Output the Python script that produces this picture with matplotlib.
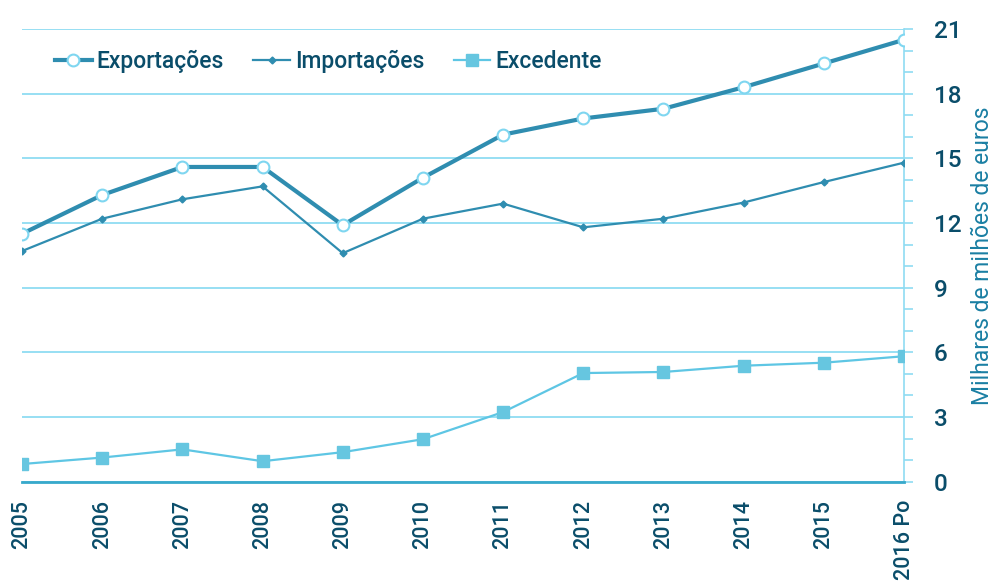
import numpy as np
import matplotlib
matplotlib.use("Agg")
import matplotlib.pyplot as plt
from matplotlib.ticker import MultipleLocator

plt.rcParams["font.family"] = ["Roboto", "DejaVu Sans"]
plt.rcParams["font.weight"] = "medium"

years = ["2005", "2006", "2007", "2008", "2009", "2010",
         "2011", "2012", "2013", "2014", "2015", "2016 Po"]
exportacoes = [11.5, 13.3, 14.6, 14.6, 11.9, 14.1, 16.1, 16.85, 17.3, 18.3, 19.4, 20.5]
importacoes = [10.7, 12.2, 13.1, 13.7, 10.6, 12.2, 12.9, 11.8, 12.2, 12.95, 13.9, 14.8]
excedente = [0.82, 1.12, 1.5, 0.95, 1.37, 1.97, 3.23, 5.04, 5.09, 5.38, 5.52, 5.82]

DARK = "#2f8db0"
LIGHT = "#5ec6e4"
GRID = "#8fdcf2"
TXT = "#0a4d6a"

fig = plt.figure(figsize=(9.93, 5.86), dpi=100)
ax = fig.add_axes([22 / 993, 1 - 481.7 / 586, (904 - 22) / 993, (481.7 - 29) / 586])
x = np.arange(len(years))

ax.plot(x, exportacoes, color=DARK, lw=3, marker="o", ms=8.5, mfc="white",
        mec="#7fd6f0", mew=1.5, label="Exportações", zorder=4)
ax.plot(x, importacoes, color=DARK, lw=1.6, marker="D", ms=3.5, mfc=DARK,
        mec=DARK, label="Importações", zorder=3)
ax.plot(x, excedente, color=LIGHT, lw=1.6, marker="s", ms=8, mfc="#66c6e0",
        mec="#66c6e0", label="Excedente", zorder=3)

ax.set_xlim(0, 11)
ax.set_ylim(0, 21)
ax.set_xticks(x)
ax.set_xticklabels(years, rotation=90, fontsize=15.5, color=TXT)
ax.tick_params(axis="x", length=0, pad=13)

ax.yaxis.tick_right()
ax.yaxis.set_label_position("right")
ax.yaxis.set_major_locator(MultipleLocator(3))
ax.yaxis.set_minor_locator(MultipleLocator(1))
ax.tick_params(axis="y", which="both", direction="out", length=6.5, width=1.2,
               color=GRID, labelsize=17.5, labelcolor=TXT, pad=15)
ax.set_ylabel("Milhares de milhões de euros", fontsize=16.5, color="#1a7fa3",
              labelpad=7)

ax.grid(axis="y", which="major", color=GRID, lw=1.3)
ax.set_axisbelow(True)
for s in ["left", "top"]:
    ax.spines[s].set_visible(False)
ax.spines["right"].set_color(GRID)
ax.spines["right"].set_linewidth(1.2)
ax.spines["bottom"].set_color("#38a9cb")
ax.spines["bottom"].set_linewidth(2)

leg = ax.legend(loc="upper left", bbox_to_anchor=(0.027, 0.975), ncol=3,
                frameon=False, fontsize=16.5, handlelength=1.6, handletextpad=0.2,
                columnspacing=1.3, borderaxespad=0)
for t in leg.get_texts():
    t.set_color(TXT)

fig.savefig("out.png", dpi=100)
